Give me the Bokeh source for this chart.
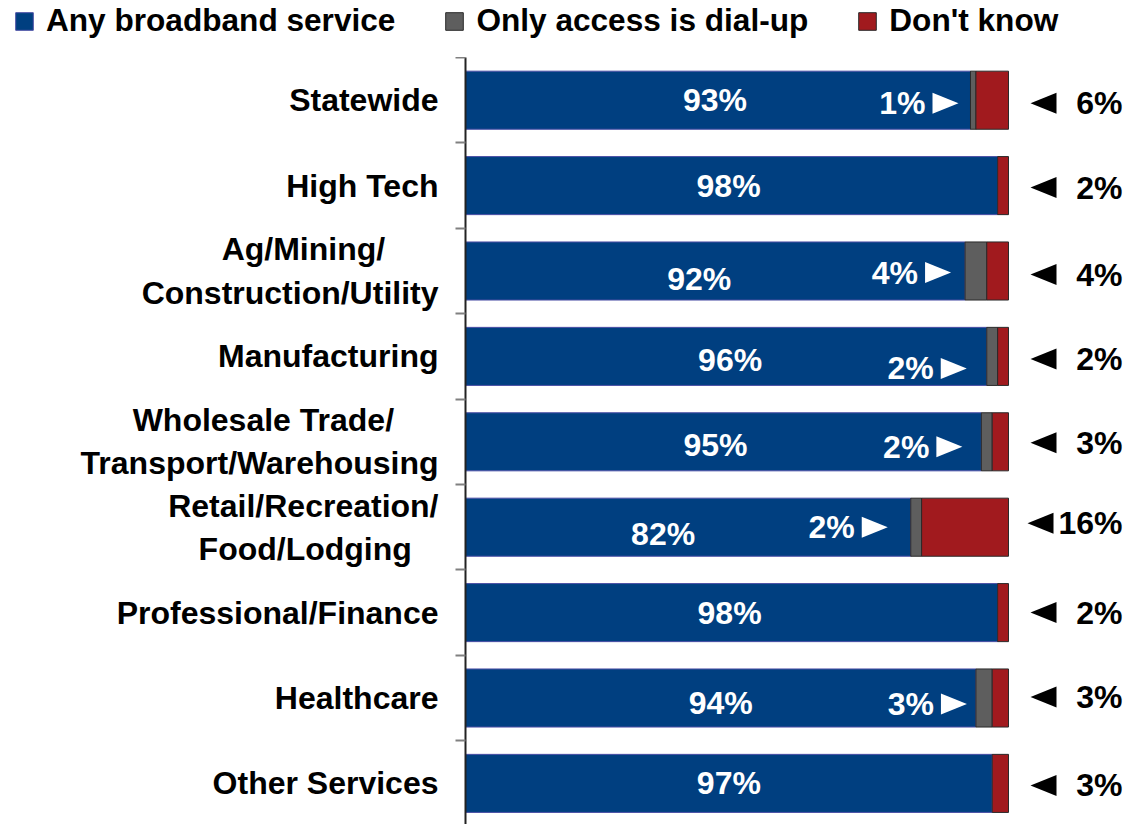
from bokeh.plotting import figure
from bokeh.layouts import column
from bokeh.models import Range1d, FixedTicker, ColumnDataSource, Legend, LegendItem
from bokeh.core.properties import value
from bokeh.embed import file_html
from bokeh.resources import INLINE

# ---------------- data ----------------
categories = [
    "Statewide",
    "High Tech",
    "Ag/Mining/\nConstruction/Utility",
    "Manufacturing",
    "Wholesale Trade/\nTransport/Warehousing",
    "Retail/Recreation/\nFood/Lodging",
    "Professional/Finance",
    "Healthcare",
    "Other Services",
]
broadband = [93, 98, 92, 96, 95, 82, 98, 94, 97]
dialup = [1, 0, 4, 2, 2, 2, 0, 3, 0]
dontknow = [6, 2, 4, 2, 3, 16, 2, 3, 3]
series_names = ["Any broadband service", "Only access is dial-up", "Don't know"]

# ---------------- style ----------------
COLORS = ["#003f80", "#5e5e5e", "#a11a1e"]
EDGES = ["#4b4fa6", "#2a2a2a", "#2a2a2a"]
FONT = value("Liberation Sans")
FS = "32px"
LEG_FS = "31.6px"

W, H = 1139, 824
LEG_H = 57
B_LEFT = 465
FRAME_W = W - B_LEFT
FRAME_H = H - LEG_H
PX_PER_UNIT = 5.43      # pixels per percentage point
BAND_PX = 85.4          # pixels per category band
TRI_W, TRI_H = 26, 21   # pointer triangle size (px)

# trailing non-breaking spaces per line, so two-line labels sit roughly centred
LINE_PAD = {2: [6, 0], 4: [5, 0], 5: [0, 3]}


def fmt_label(i, text):
    if i not in LINE_PAD:
        return text
    lines = text.split("\n")
    return "\n".join(l + "\u00a0" * k for l, k in zip(lines, LINE_PAD[i]))


n = len(categories)
ys = list(range(n))

p = figure(
    width=W, height=FRAME_H, output_backend="svg", toolbar_location=None,
    x_range=Range1d(0, FRAME_W / PX_PER_UNIT),
    y_range=Range1d(-0.5 + FRAME_H / BAND_PX, -0.5),
    min_border_left=B_LEFT, min_border_right=0, min_border_top=0, min_border_bottom=0,
)
p.frame_align = False
p.outline_line_color = None
p.xgrid.visible = False
p.ygrid.visible = False
p.xaxis.visible = False

du_left = [b for b, d in zip(broadband, dialup) if d > 0]
du_right = [b + d for b, d in zip(broadband, dialup) if d > 0]
du_y = [y for y, d in zip(ys, dialup) if d > 0]
dk_left = [b + d for b, d in zip(broadband, dialup)]
dk_right = [b + d + k for b, d, k in zip(broadband, dialup, dontknow)]

BAR_H = 0.68
p.hbar(y=ys, left=0, right=broadband, height=BAR_H, fill_color=COLORS[0],
       line_color=EDGES[0], line_width=1)
p.hbar(y=du_y, left=du_left, right=du_right, height=BAR_H, fill_color=COLORS[1],
       line_color=EDGES[1], line_width=1)
p.hbar(y=ys, left=dk_left, right=dk_right, height=BAR_H, fill_color=COLORS[2],
       line_color=EDGES[2], line_width=1)

# y axis: category labels at centres, tick marks at band boundaries
ax = p.yaxis[0]
ax.ticker = FixedTicker(ticks=ys, minor_ticks=[i - 0.5 for i in range(n + 1)])
ax.major_label_overrides = {i: fmt_label(i, c) for i, c in zip(ys, categories)}
ax.major_tick_line_color = None
ax.major_tick_out = 0
ax.major_tick_in = 0
ax.minor_tick_line_color = "#808080"
ax.minor_tick_line_width = 2
ax.minor_tick_out = 10
ax.minor_tick_in = 0
ax.axis_line_color = "#222222"
ax.axis_line_width = 2
ax.major_label_text_font = "Liberation Sans"
ax.major_label_text_font_style = "bold"
ax.major_label_text_font_size = FS
ax.major_label_text_color = "black"
ax.major_label_standoff = 17

# ---- labels: broadband (inside blue) ----
bb_dx = [-3, -3, -16, 4, -8, -25, -2, 0, 0]   # small label nudges (px)
bb_dy = [0, 0, 8, 4, 3, 7, 0, 5, 0]
src_bb = ColumnDataSource(dict(x=[b / 2 for b in broadband], y=ys,
                               t=[f"{b}%" for b in broadband], dx=bb_dx, dy=bb_dy))
p.text(x="x", y="y", text="t", source=src_bb, x_offset="dx", y_offset="dy",
       text_align="center", text_baseline="middle", text_color="white",
       text_font=FONT, text_font_style="bold", text_font_size=FS)

# ---- labels: dial-up (inside blue, pointer towards grey) ----
du_dy_all = [3, 0, 1.5, 12, 5, 0, 0, 6, 0]
du_gap_all = [12, 0, 14, 20, 19, 23, 0, 9, 0]
du_dy = [v for v, d in zip(du_dy_all, dialup) if d > 0]
du_gap = [g for g, d in zip(du_gap_all, dialup) if d > 0]
du_tip = [b - g / PX_PER_UNIT for b, g in zip(du_left, du_gap)]
du_yc = [y + v / BAND_PX for y, v in zip(du_y, du_dy)]
p.patches(
    xs=[[t, t - TRI_W / PX_PER_UNIT, t - TRI_W / PX_PER_UNIT] for t in du_tip],
    ys=[[c, c - TRI_H / 2 / BAND_PX, c + TRI_H / 2 / BAND_PX] for c in du_yc],
    fill_color="white", line_color=None,
)
src_du = ColumnDataSource(dict(x=du_tip, y=du_yc, t=[f"{d}%" for d in dialup if d > 0]))
p.text(x="x", y="y", text="t", source=src_du, x_offset=-(TRI_W + 7),
       text_align="right", text_baseline="middle", text_color="white",
       text_font=FONT, text_font_style="bold", text_font_size=FS)

# ---- labels: don't know (outside, right) ----
dk_dy = [3, 2, 3.5, 2.5, 1, -4, 0, -1, 2]
dk_yc = [y + v / BAND_PX for y, v in zip(ys, dk_dy)]
dk_tip = [r + (19 if k >= 10 else 22) / PX_PER_UNIT for r, k in zip(dk_right, dontknow)]
p.patches(
    xs=[[t, t + TRI_W / PX_PER_UNIT, t + TRI_W / PX_PER_UNIT] for t in dk_tip],
    ys=[[c, c - TRI_H / 2 / BAND_PX, c + TRI_H / 2 / BAND_PX] for c in dk_yc],
    fill_color="black", line_color=None,
)
src_dk = ColumnDataSource(dict(x=dk_right, y=dk_yc, t=[f"{k}%" for k in dontknow]))
p.text(x="x", y="y", text="t", source=src_dk, x_offset=114,
       text_align="right", text_baseline="middle", text_color="black",
       text_font=FONT, text_font_style="bold", text_font_size=FS)

# ---- legend (own strip above the chart; proxy bars lie outside its view) ----
lg = figure(
    width=W, height=LEG_H, output_backend="svg", toolbar_location=None,
    x_range=Range1d(200, 201), y_range=Range1d(200, 201),
    min_border_left=0, min_border_right=0, min_border_top=0, min_border_bottom=0,
)
lg.frame_align = False
lg.axis.visible = False
lg.grid.visible = False
lg.outline_line_color = None
lr = [
    lg.hbar(y=ys, left=0, right=broadband, height=BAR_H, fill_color=COLORS[0],
            line_color=EDGES[0], line_width=1),
    lg.hbar(y=du_y, left=du_left, right=du_right, height=BAR_H, fill_color=COLORS[1],
            line_color=EDGES[1], line_width=1),
    lg.hbar(y=ys, left=dk_left, right=dk_right, height=BAR_H, fill_color=COLORS[2],
            line_color=EDGES[2], line_width=1),
]
legend = Legend(
    items=[LegendItem(label=s, renderers=[r]) for s, r in zip(series_names, lr)],
    orientation="horizontal",
    location=(13, 18),
    glyph_width=22, glyph_height=22,
    label_text_font="Liberation Sans", label_text_font_style="bold",
    label_text_font_size=LEG_FS, label_text_color="black",
    label_standoff=11, spacing=48,
    padding=0, margin=0,
    border_line_color=None, background_fill_alpha=0,
)
lg.add_layout(legend, "center")

layout = column(lg, p, spacing=0)
open("out.html", "w").write(file_html(layout, INLINE))
